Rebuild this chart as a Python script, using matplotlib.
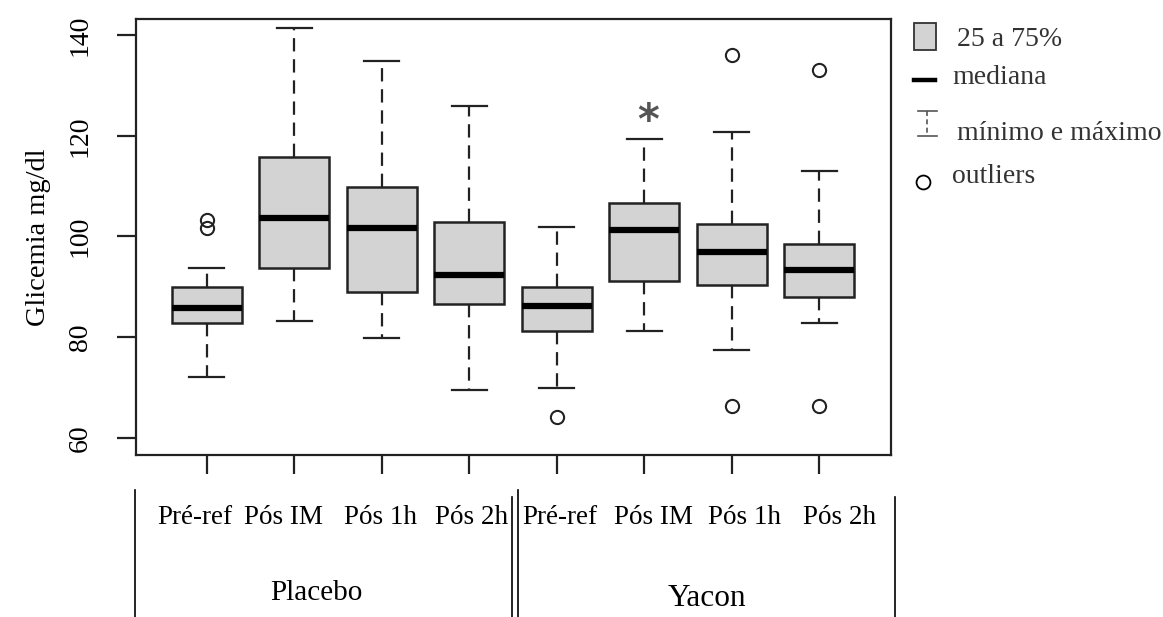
import matplotlib
matplotlib.use("Agg")
import matplotlib.pyplot as plt
from matplotlib.lines import Line2D
from matplotlib.patches import Rectangle

plt.rcParams["font.family"] = ["Liberation Serif", "DejaVu Serif"]

# boxplot summary values (mg/dl)
groups = ["Placebo", "Yacon"]
moments = ["Pré-ref", "Pós IM", "Pós 1h", "Pós 2h"]
whislo = [72.0, 83.2, 79.9, 69.6, 70.0, 81.2, 77.5, 82.9]
q1 = [82.8, 93.7, 89.0, 86.6, 81.2, 91.2, 90.4, 87.9]
med = [85.7, 103.6, 101.6, 92.4, 86.2, 101.2, 97.0, 93.3]
q3 = [90.0, 115.7, 109.8, 102.9, 90.0, 106.6, 102.4, 98.6]
whishi = [93.7, 141.4, 134.8, 126.0, 101.9, 119.4, 120.7, 113.1]
outliers = [[101.6, 103.3], [], [], [], [64.2], [], [136.0, 66.4], [133.1, 66.4]]
signif = [False, False, False, False, False, True, False, False]

W, H = 1163, 617
fig = plt.figure(figsize=(W / 100, H / 100), dpi=100)
ax = fig.add_axes([136 / W, 1 - 455 / H, (891 - 136) / W, (455 - 19) / H])

stats = []
for i in range(len(med)):
    stats.append(dict(whislo=whislo[i], q1=q1[i], med=med[i], q3=q3[i],
                      whishi=whishi[i], fliers=outliers[i]))
pos = list(range(1, len(med) + 1))

ax.bxp(stats, positions=pos, widths=0.8, patch_artist=True,
       boxprops=dict(facecolor="#d3d3d3", edgecolor="#222222", linewidth=1.8),
       medianprops=dict(color="black", linewidth=4.5, solid_capstyle="butt"),
       whiskerprops=dict(color="#222222", linewidth=1.6, linestyle=(0, (6, 3.5))),
       capprops=dict(color="#222222", linewidth=1.6),
       capwidths=0.4,
       flierprops=dict(marker="o", markerfacecolor="none", markeredgecolor="#222222",
                       markersize=9.5, markeredgewidth=1.5))

for p, s, top in zip(pos, signif, whishi):
    if s:
        ax.text(p + 0.04, top + 3.3, "*", ha="center", va="center", fontsize=30,
                color="#555555", fontweight="bold", family="DejaVu Sans")

ax.set_xlim(0.19, 8.82)
ax.set_ylim(56.6, 143.2)
ax.set_yticks([60, 80, 100, 120, 140])
ax.set_xticks(pos)
ax.set_xticklabels([])
for sp in ax.spines.values():
    sp.set_linewidth(1.6)
    sp.set_color("#222222")
ax.tick_params(axis="both", length=14, width=1.6, color="#222222")
ax.tick_params(axis="y", pad=17, labelsize=20)
for lab in ax.get_yticklabels():
    lab.set_rotation(90)
    lab.set_va("center")
ax.set_ylabel("Glicemia mg/dl", fontsize=20.5, labelpad=12)

# category labels under the axis
label_px = [195, 284, 380, 472, 560, 654, 745, 840]
names = moments * len(groups)
for x, n in zip(label_px, names):
    fig.text(x / W, 1 - 517 / H, n, ha="center", va="center", fontsize=19.5)
fig.text(316 / W, 1 - 593 / H, groups[0], ha="center", va="center", fontsize=21)
fig.text(707 / W, 1 - 598 / H, groups[1], ha="center", va="center", fontsize=22.5)

for x, y0 in [(135, 490), (512, 497), (518, 490), (895, 497)]:
    fig.add_artist(Line2D([x / W, x / W], [1 - y0 / H, 0], color="black",
                          linewidth=1.2, transform=fig.transFigure))

# legend drawn by hand
tc = "#333333"
fig.add_artist(Rectangle((914 / W, 1 - 50 / H), 22 / W, 27 / H, facecolor="#d3d3d3",
                         edgecolor="#333333", linewidth=1.3, transform=fig.transFigure))
fig.text(957 / W, 1 - 40 / H, "25 a 75%", ha="left", va="center", fontsize=20, color=tc)
fig.add_artist(Line2D([914 / W, 935 / W], [1 - 80 / H] * 2, color="black",
                      linewidth=3.2, transform=fig.transFigure))
fig.text(952 / W, 1 - 77 / H, "mediana", ha="left", va="center", fontsize=20, color=tc)
fig.add_artist(Line2D([927 / W, 927 / W], [1 - 111 / H, 1 - 136 / H], color="#555555",
                      linewidth=1.2, linestyle=(0, (3, 2)), transform=fig.transFigure))
for yy in (111, 136):
    fig.add_artist(Line2D([918 / W, 937 / W], [1 - yy / H] * 2, color="#555555",
                          linewidth=1.2, transform=fig.transFigure))
fig.text(957 / W, 1 - 133 / H, "mínimo e máximo", ha="left", va="center", fontsize=20, color=tc)
fig.add_artist(Line2D([923 / W], [1 - 182 / H], marker="o", markersize=10,
                      markerfacecolor="none", markeredgecolor="black",
                      markeredgewidth=1.3, transform=fig.transFigure))
fig.text(952 / W, 1 - 177 / H, "outliers", ha="left", va="center", fontsize=20, color=tc)

fig.savefig("out.png", dpi=100)
